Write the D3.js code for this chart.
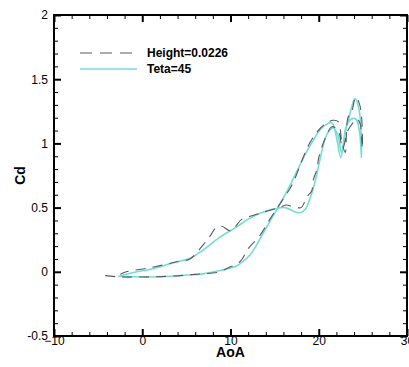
<!DOCTYPE html>
<html>
<head>
<meta charset="utf-8">
<script src="https://cdn.jsdelivr.net/npm/d3@7"></script>
<style>
  html, body { margin: 0; padding: 0; background: #fff; }
  svg { display: block; font-family: "Liberation Sans", Arial, sans-serif; }
</style>
</head>
<body>
<svg id="chart" width="409" height="367"></svg>
<script>
// Drag coefficient over one pitching cycle (angle of attack in degrees).
// Each series is traced in cycle order: upstroke, then downstroke.
const heightAoA = [-4.2, -2.5, 0, 3, 6, 8.8, 9.7, 11.1, 12, 13.3, 14.65, 16, 17, 18, 18.8, 19.5, 20.2, 20.9, 21.6, 22.2, 22.6, 23.0, 23.3, 23.7, 24.2, 24.6, 24.85, 24.95,
                   24.85, 24.7, 24.35, 24.0, 23.3, 22.7, 22.2, 21.5, 20.8, 20.0, 19.8, 19.4, 19.2, 18.6, 18.3, 18.0, 17.0, 16.3, 15.5, 14.5, 13.5, 12.6, 11.3, 10.4, 9.9, 9.0, 8.3, 7.7, 6.9, 5.4, 4.0, 2.8, 0.7, -1.8, -2.5];
const heightCd  = [-0.03, -0.04, -0.04, -0.035, -0.02, 0.0, 0.03, 0.08, 0.18, 0.28, 0.43, 0.57, 0.68, 0.85, 0.98, 1.06, 1.12, 1.16, 1.18, 1.17, 1.02, 0.93, 1.20, 1.24, 1.36, 1.31, 1.21, 0.96,
                   1.04, 1.15, 1.19, 1.17, 1.10, 0.96, 1.10, 1.13, 1.05, 0.89, 0.80, 0.72, 0.63, 0.58, 0.53, 0.50, 0.51, 0.52, 0.50, 0.48, 0.46, 0.44, 0.41, 0.34, 0.32, 0.355, 0.34, 0.28, 0.21, 0.10, 0.08, 0.06, 0.03, 0.0, -0.02];

const tetaAoA = [-2.7, -1, 1, 3.1, 5, 6.9, 8.8, 10.0, 10.7, 11.4, 12.2, 13.3, 14.2, 15.2, 16.5, 17.5, 18.5, 19.5, 20.2, 20.9, 21.5, 22.0, 22.5, 23.0, 23.5, 24.1, 24.6, 24.85,
                 24.6, 24.2, 23.7, 23.1, 22.6, 22.1, 21.6, 21.0, 20.6, 20.1, 19.5, 19.0, 18.5, 17.9, 17.2, 16.2, 15.0, 13.5, 12.0, 10.7, 8.8, 6.9, 5.4, 3.2, 1.0, -1.0, -2.7];
const tetaCd  = [-0.035, -0.038, -0.04, -0.035, -0.025, -0.016, 0.01, 0.03, 0.045, 0.08, 0.13, 0.25, 0.36, 0.48, 0.64, 0.78, 0.92, 1.04, 1.11, 1.15, 1.16, 1.05, 0.89, 1.08, 1.22, 1.35, 1.25, 0.89,
                 1.10, 1.19, 1.19, 1.13, 0.93, 1.08, 1.12, 1.08, 1.01, 0.86, 0.68, 0.57, 0.49, 0.46, 0.47, 0.50, 0.49, 0.46, 0.41, 0.35, 0.27, 0.17, 0.105, 0.065, 0.02, -0.005, -0.035];

const seriesNames = ["Height=0.0226", "Teta=45"];
const xMajorTicks = [-10, 0, 10, 20, 30];
const yMajorTicks = [-0.5, 0, 0.5, 1, 1.5, 2];

const svg = d3.select("#chart");
const plotLeft = 54, plotRight = 407, plotTop = 15, plotBottom = 336;

const x = d3.scaleLinear().domain([-10, 30]).range([plotLeft, plotRight]);
const y = d3.scaleLinear().domain([-0.5, 2]).range([plotBottom, plotTop]);

const xMinor = d3.range(-10, 30.01, 2).filter(v => !xMajorTicks.includes(v));
const yMinor = d3.range(-5, 20.01, 1).map(v => v / 10).filter(v => !yMajorTicks.some(t => Math.abs(t - v) < 1e-9));

function styleAxis(g, width) {
  g.select(".domain").remove();
  g.selectAll(".tick line").attr("stroke", "#000").attr("stroke-width", width);
  g.selectAll(".tick text").attr("fill", "#000").attr("font-size", 12);
}

// Major and minor ticks on all four sides, pointing into the plot.
svg.append("g").attr("transform", `translate(0,${plotBottom})`)
  .call(d3.axisBottom(x).tickValues(xMajorTicks).tickSize(-7).tickPadding(0).tickFormat(d3.format("d")))
  .call(g => styleAxis(g, 2));
svg.append("g").attr("transform", `translate(0,${plotBottom})`)
  .call(d3.axisBottom(x).tickValues(xMinor).tickSize(-4).tickFormat(""))
  .call(g => styleAxis(g, 1));
svg.append("g").attr("transform", `translate(0,${plotTop})`)
  .call(d3.axisTop(x).tickValues(xMajorTicks).tickSize(-7).tickFormat(""))
  .call(g => styleAxis(g, 2));
svg.append("g").attr("transform", `translate(0,${plotTop})`)
  .call(d3.axisTop(x).tickValues(xMinor).tickSize(-4).tickFormat(""))
  .call(g => styleAxis(g, 1));

svg.append("g").attr("transform", `translate(${plotLeft},0)`)
  .call(d3.axisLeft(y).tickValues(yMajorTicks).tickSize(-7).tickPadding(6).tickFormat(d => String(d)))
  .call(g => styleAxis(g, 2));
svg.append("g").attr("transform", `translate(${plotLeft},0)`)
  .call(d3.axisLeft(y).tickValues(yMinor).tickSize(-4).tickFormat(""))
  .call(g => styleAxis(g, 1));
svg.append("g").attr("transform", `translate(${plotRight},0)`)
  .call(d3.axisRight(y).tickValues(yMajorTicks).tickSize(-7).tickFormat(""))
  .call(g => styleAxis(g, 2));
svg.append("g").attr("transform", `translate(${plotRight},0)`)
  .call(d3.axisRight(y).tickValues(yMinor).tickSize(-4).tickFormat(""))
  .call(g => styleAxis(g, 1));

// Curves, clipped to the frame.
svg.append("clipPath").attr("id", "plotClip")
  .append("rect").attr("x", plotLeft).attr("y", plotTop)
  .attr("width", plotRight - plotLeft).attr("height", plotBottom - plotTop);

const line = d3.line()
  .x(d => x(d[0]))
  .y(d => y(d[1]))
  .curve(d3.curveCatmullRom.alpha(0.5));

const plot = svg.append("g").attr("clip-path", "url(#plotClip)");

plot.append("path")
  .datum(tetaAoA.map((a, i) => [a, tetaCd[i]]))
  .attr("fill", "none")
  .attr("stroke", "#74dcd8")
  .attr("stroke-width", 1.6)
  .attr("d", line);

plot.append("path")
  .datum(heightAoA.map((a, i) => [a, heightCd[i]]))
  .attr("fill", "none")
  .attr("stroke", "#5a5a5a")
  .attr("stroke-width", 1.1)
  .attr("stroke-dasharray", "10,7")
  .attr("d", line);

// Frame
svg.append("rect")
  .attr("x", plotLeft).attr("y", plotTop)
  .attr("width", plotRight - plotLeft).attr("height", plotBottom - plotTop)
  .attr("fill", "none").attr("stroke", "#000").attr("stroke-width", 2);

// Axis titles
svg.append("text")
  .attr("x", (plotLeft + plotRight) / 2).attr("y", 357)
  .attr("text-anchor", "middle")
  .attr("font-size", 14).attr("font-weight", "bold")
  .text("AoA");

svg.append("text")
  .attr("transform", `translate(25,${(plotTop + plotBottom) / 2}) rotate(-90)`)
  .attr("text-anchor", "middle")
  .attr("font-size", 14).attr("font-weight", "bold")
  .text("Cd");

// Legend
const legend = svg.append("g");
legend.append("line")
  .attr("x1", 80).attr("x2", 134).attr("y1", 53).attr("y2", 53)
  .attr("stroke", "#5a5a5a").attr("stroke-width", 1.1).attr("stroke-dasharray", "12,8");
legend.append("line")
  .attr("x1", 80).attr("x2", 137).attr("y1", 69).attr("y2", 69)
  .attr("stroke", "#74dcd8").attr("stroke-width", 1.6);
legend.selectAll("text.lab")
  .data(seriesNames)
  .join("text")
  .attr("class", "lab")
  .attr("x", 147)
  .attr("y", (d, i) => 57 + i * 15.5)
  .attr("font-size", 12).attr("font-weight", "bold")
  .text(d => d);
</script>
</body>
</html>
